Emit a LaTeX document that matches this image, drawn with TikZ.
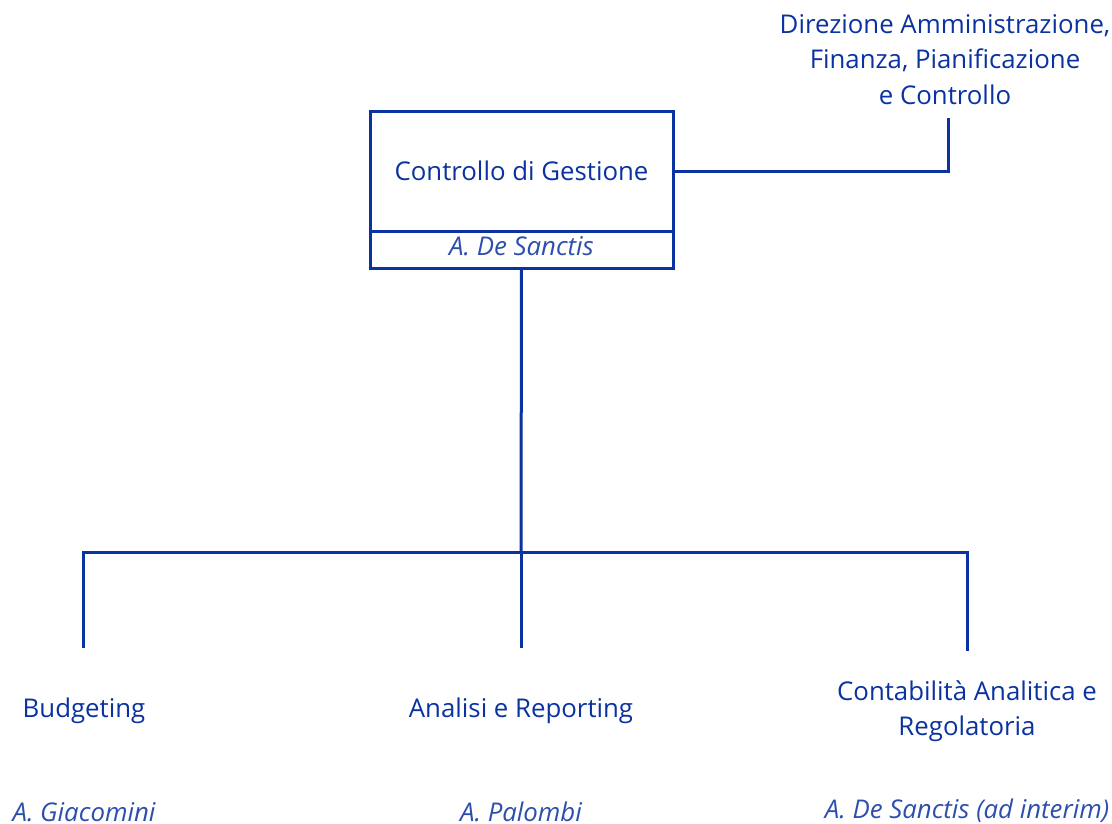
\documentclass[tikz,border=0pt]{standalone}
\usepackage{fontspec}
\setmainfont{Open Sans}
\definecolor{dblue}{HTML}{0A32A0}
\definecolor{iblue}{HTML}{2C4FAE}
\begin{document}
\begin{tikzpicture}[x=1pt,y=-1pt,
  every node/.style={inner sep=0pt,outer sep=0pt},
  lbl/.style={text=dblue,font=\fontsize{25.8}{35.2}\selectfont,align=center},
  nm/.style={text=iblue,font=\fontsize{25.8}{35.2}\selectfont\itshape,align=center},
  conn/.style={draw=dblue,line width=3pt}]
\useasboundingbox (0,0) rectangle (1112,824);
% main box
\node[draw=dblue,line width=3pt,minimum width=303pt,minimum height=119pt] (cg) at (521.5,171.5) {};
\node[lbl,anchor=base] (cgt) at (521.5,181) {Controllo di Gestione};
\node[draw=dblue,line width=3pt,minimum width=303pt,minimum height=37pt,anchor=north] (cgn) at (cg.south) {};
\node[nm,anchor=base] (cgnt) at (521.5,255) {A. De Sanctis};
% director
\node[lbl] (dir) at (945,59.5) {Direzione Amministrazione,\\Finanza, Pianificazione\\e Controllo};
\coordinate (dirb) at (948,118);
\draw[conn] (cg.east) -| (dirb);
% children
\node[lbl,anchor=base] (bud) at (84,717) {Budgeting};
\node[lbl,anchor=base] (ana) at (521,717) {Analisi e Reporting};
\node[lbl] (con) at (967,711.5) {Contabilità Analitica e\\Regolatoria};
\node[nm,anchor=base] (budn) at (84,821) {A. Giacomini};
\node[nm,anchor=base] (anan) at (521,821) {A. Palombi};
\node[nm,anchor=base] (conn) at (967,818) {A. De Sanctis (ad interim)};
% tree
\coordinate (j) at (521,552);
\coordinate (bt) at (83,648);
\coordinate (at) at (521,648);
\coordinate (ct) at (967,651);
\draw[conn] (cgn.south) -- (j);
\draw[conn] (j) -| (bt);
\draw[conn] (j) -- (at);
\draw[conn] (j) -| (ct);
\end{tikzpicture}
\end{document}
